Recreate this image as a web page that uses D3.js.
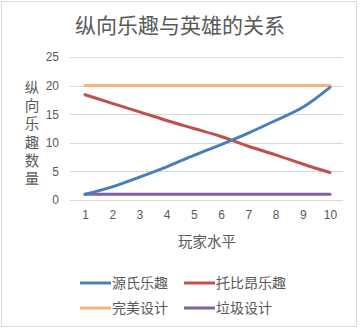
<!DOCTYPE html>
<html>
<head>
<meta charset="utf-8">
<script src="https://cdn.jsdelivr.net/npm/d3@7"></script>
<style>
	body { margin: 0; background: #fff; }
	svg { display: block; font-family: "Noto Sans CJK SC", "Liberation Sans", sans-serif; }
</style>
</head>
<body>
<svg id="chart" width="361" height="329"></svg>
<script>
// chart data
var levels = [1, 2, 3, 4, 5, 6, 7, 8, 9, 10];
var yuanshi = [1, 2.3, 4, 5.8, 7.8, 9.7, 11.7, 13.9, 16.2, 19.7];
var tuobiang = [18.4, 16.9, 15.4, 13.9, 12.5, 11.1, 9.4, 7.9, 6.3, 4.8];
var wanmei = [20, 20, 20, 20, 20, 20, 20, 20, 20, 20];
var laji = [1, 1, 1, 1, 1, 1, 1, 1, 1, 1];
var seriesNames = ['源氏乐趣', '托比昂乐趣', '完美设计', '垃圾设计'];
var yTicks = [0, 5, 10, 15, 20, 25];

var colors = ['#4a7ebb', '#c0504d', '#f9b47c', '#7f5fa5'];
var allSeries = [yuanshi, tuobiang, wanmei, laji];

var svg = d3.select('#chart');

// outer border
svg.append('rect')
	.attr('x', 1.5).attr('y', 1.5)
	.attr('width', 355).attr('height', 325)
	.attr('fill', '#fff').attr('stroke', '#d9d9d9');

var x = d3.scalePoint().domain(levels).range([85, 330]);
var y = d3.scaleLinear().domain([0, 25]).range([200, 57]);

// title
svg.append('text')
	.attr('x', 180).attr('y', 33)
	.attr('text-anchor', 'middle')
	.attr('font-size', 21)
	.attr('fill', '#595959')
	.text('纵向乐趣与英雄的关系');

// gridlines
svg.append('g').selectAll('line')
	.data(yTicks)
	.enter().append('line')
	.attr('x1', 70).attr('x2', 343)
	.attr('y1', function(d) { return Math.round(y(d)) + 0.5; })
	.attr('y2', function(d) { return Math.round(y(d)) + 0.5; })
	.attr('stroke', '#d9d9d9');

// y axis labels
var yAxis = d3.axisLeft(y).tickValues(yTicks).tickSize(0).tickPadding(0);
var gy = svg.append('g').attr('transform', 'translate(59,0)').call(yAxis);
gy.select('.domain').remove();
gy.selectAll('text').attr('font-size', 12).attr('fill', '#595959')
	.attr('font-family', '"Liberation Sans", sans-serif');

// x axis labels
var xAxis = d3.axisBottom(x).tickSize(0).tickPadding(0);
var gx = svg.append('g').attr('transform', 'translate(0,210)').call(xAxis);
gx.select('.domain').remove();
gx.selectAll('text').attr('font-size', 12).attr('fill', '#595959')
	.attr('font-family', '"Liberation Sans", sans-serif');

// axis titles
svg.append('text')
	.attr('x', 207).attr('y', 247)
	.attr('text-anchor', 'middle')
	.attr('font-size', 14.5)
	.attr('fill', '#595959')
	.text('玩家水平');

// vertical y title as one text
svg.append('text')
	.attr('x', 32).attr('y', 80)
	.attr('font-size', 14.5)
	.attr('fill', '#595959')
	.style('writing-mode', 'vertical-rl')
	.style('text-orientation', 'upright')
	.style('letter-spacing', '3.8px')
	.text('纵向乐趣数量');

// series lines
var line = d3.line()
	.x(function(d, i) { return x(levels[i]); })
	.y(function(d) { return y(d); })
	.curve(d3.curveMonotoneX);

svg.append('g').selectAll('path')
	.data([wanmei, laji, tuobiang, yuanshi])
	.enter().append('path')
	.attr('d', line)
	.attr('fill', 'none')
	.attr('stroke', function(d) { return colors[allSeries.indexOf(d)]; })
	.attr('stroke-width', 3)
	.attr('stroke-linecap', 'round');

// legend
var legendPos = [[80, 283], [184, 283], [80, 308], [184, 308]];
var lg = svg.append('g').selectAll('g')
	.data(seriesNames)
	.enter().append('g')
	.attr('transform', function(d, i) { return 'translate(' + legendPos[i][0] + ',' + legendPos[i][1] + ')'; });
lg.append('line')
	.attr('x1', 0).attr('x2', 31)
	.attr('y1', 0).attr('y2', 0)
	.attr('stroke', function(d, i) { return colors[i]; })
	.attr('stroke-width', 3);
lg.append('text')
	.attr('x', 32).attr('y', 5)
	.attr('font-size', 14)
	.attr('fill', '#595959')
	.text(function(d) { return d; });
</script>
</body>
</html>
